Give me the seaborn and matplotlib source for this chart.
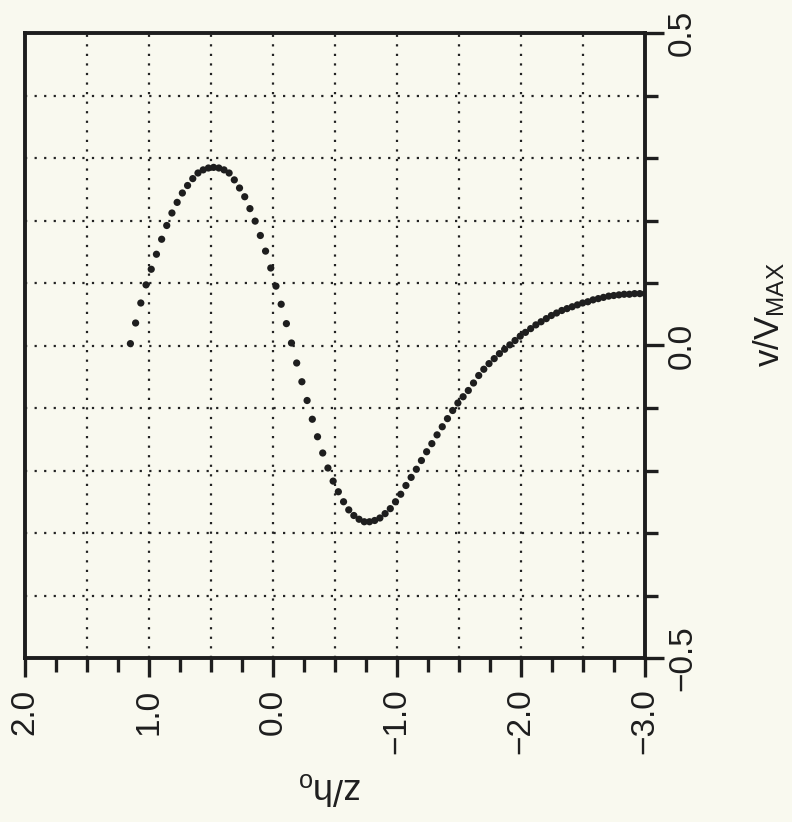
import numpy as np
import pandas as pd
import matplotlib
matplotlib.use("Agg")
import matplotlib.pyplot as plt
import seaborn as sns

# depth z/h0 (one value per dot)
z_h0 = [
    1.150, 1.108, 1.066, 1.024, 0.982, 0.940, 0.898, 0.857, 0.815, 0.773,
    0.731, 0.689, 0.647, 0.605, 0.563, 0.521, 0.479, 0.437, 0.395, 0.354,
    0.312, 0.270, 0.228, 0.186, 0.144, 0.102, 0.060, 0.018, -0.024, -0.066,
    -0.108, -0.149, -0.191, -0.233, -0.275, -0.317, -0.359, -0.401, -0.443, -0.485,
    -0.527, -0.569, -0.611, -0.652, -0.694, -0.736, -0.778, -0.820, -0.862, -0.904,
    -0.946, -0.988, -1.030, -1.072, -1.114, -1.156, -1.197, -1.239, -1.281, -1.323,
    -1.365, -1.407, -1.449, -1.491, -1.533, -1.575, -1.617, -1.659, -1.700, -1.742,
    -1.784, -1.826, -1.868, -1.910, -1.952, -1.994, -2.036, -2.078, -2.120, -2.162,
    -2.204, -2.245, -2.287, -2.329, -2.371, -2.413, -2.455, -2.497, -2.539, -2.581,
    -2.623, -2.665, -2.707, -2.748, -2.790, -2.832, -2.874, -2.916, -2.958, -3.000,
]

# velocity v/Vmax
v_vmax = [
    0.003, 0.036, 0.068, 0.097, 0.122, 0.146, 0.170, 0.192, 0.212, 0.229,
    0.244, 0.256, 0.267, 0.276, 0.281, 0.284, 0.285, 0.284, 0.281, 0.276,
    0.265, 0.252, 0.238, 0.219, 0.199, 0.176, 0.151, 0.124, 0.095, 0.066,
    0.035, 0.004, -0.028, -0.058, -0.088, -0.118, -0.146, -0.172, -0.196, -0.217,
    -0.234, -0.250, -0.263, -0.272, -0.278, -0.282, -0.282, -0.280, -0.276, -0.269,
    -0.261, -0.250, -0.238, -0.224, -0.211, -0.198, -0.184, -0.170, -0.157, -0.143,
    -0.130, -0.117, -0.104, -0.092, -0.082, -0.072, -0.060, -0.048, -0.038, -0.029,
    -0.021, -0.013, -0.006, 0.001, 0.008, 0.015, 0.021, 0.027, 0.033, 0.038,
    0.043, 0.048, 0.052, 0.056, 0.059, 0.062, 0.065, 0.068, 0.070, 0.073,
    0.075, 0.077, 0.079, 0.080, 0.081, 0.082, 0.082, 0.083, 0.083, 0.083,
]

x_ticks = [2.0, 1.0, 0.0, -1.0, -2.0, -3.0]
x_ticklabels = ["2.0", "1.0", "0.0", "\u22121.0", "\u22122.0", "\u22123.0"]
y_ticks = [-0.5, 0.0, 0.5]
y_ticklabels = ["\u22120.5", "0.0", "0.5"]

bg = "#f9f9ef"
ink = "#1e1e1e"

sns.set_theme(style="white")
plt.rcParams["font.family"] = ["Liberation Sans", "DejaVu Sans"]
plt.rcParams["mathtext.default"] = "regular"

fig = plt.figure(figsize=(7.92, 8.22), dpi=100, facecolor=bg)
ax = fig.add_axes([25 / 792, 1 - 658 / 822, 620 / 792, 625 / 822])
ax.set_facecolor(bg)

df = pd.DataFrame({"z": z_h0, "v": v_vmax})
sns.scatterplot(data=df, x="z", y="v", ax=ax, s=27, color=ink,
                edgecolor="none", linewidth=0, zorder=3)

ax.set_xlim(2.0, -3.0)
ax.set_ylim(-0.5, 0.5)

# dotted grid: every 0.5 in z, every 0.1 in v
grid_kw = dict(color="#222222", lw=1.6, ls=(0, (1, 3.3)), zorder=1)
for gx in np.arange(1.5, -2.9, -0.5):
    ax.axvline(gx, **grid_kw)
for gy in np.arange(-0.4, 0.45, 0.1):
    ax.axhline(gy, **grid_kw)

for s in ax.spines.values():
    s.set_linewidth(2.8)
    s.set_color(ink)

ax.set_xticks(x_ticks)
ax.set_xticklabels(x_ticklabels, rotation=90)
ax.set_xticks(np.arange(2.0, -3.01, -0.25), minor=True)
ax.tick_params(axis="x", which="major", bottom=True, direction="out",
               length=14, width=2.4, color=ink, labelsize=24, pad=8,
               labelcolor=ink)
ax.tick_params(axis="x", which="minor", bottom=True, direction="out",
               length=10, width=2.4, color=ink)

ax.yaxis.tick_right()
ax.set_yticks(y_ticks)
ax.set_yticklabels(y_ticklabels, rotation=90, va="center")
ax.set_yticks(np.arange(-0.5, 0.51, 0.1), minor=True)
ax.tick_params(axis="y", which="major", right=True, left=False, direction="out",
               length=14, width=2.4, color=ink, labelsize=24, pad=2,
               labelcolor=ink)
ax.tick_params(axis="y", which="minor", right=True, left=False, direction="out",
               length=9, width=2.4, color=ink)

ax.set_xlabel(r"z/h$_o$", rotation=180, fontsize=26, color=ink)
ax.xaxis.set_label_coords(0.492, -0.208)
ax.xaxis.label.set_va("center")

ax.yaxis.set_label_position("right")
ax.set_ylabel(r"v/V$_{MAX}$", rotation=90, fontsize=25, color=ink)
ax.yaxis.set_label_coords(1.2, 0.55)
ax.yaxis.label.set_va("center")
ax.yaxis.label.set_ha("center")

fig.savefig("out.png", dpi=100, facecolor=bg)
